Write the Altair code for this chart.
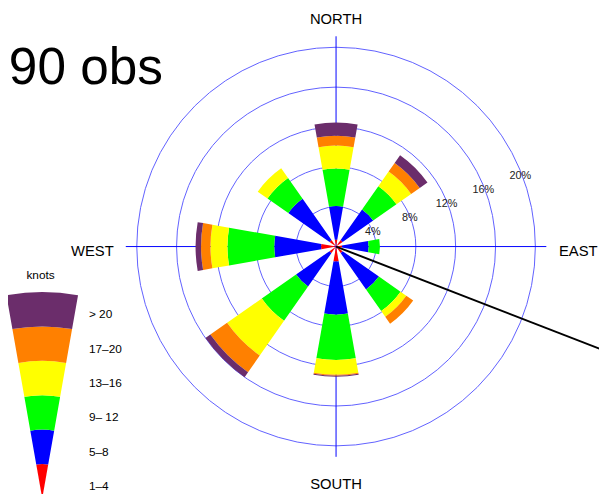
import math
import altair as alt
import pandas as pd

# ---------------- data ----------------
directions = ["N", "NE", "E", "SE", "S", "SW", "W", "NW"]
bearings = [0, 45, 90, 135, 180, 225, 270, 315]
speed_classes = ["1–4", "5–8", "9– 12", "13–16", "17–20", "> 20"]
class_colors = ["#ff0000", "#0000ff", "#00ff00", "#ffff00", "#ff8000", "#6b2d6b"]

# frequency (%) of each speed class, per direction
freq_N = [0.70, 3.36, 3.76, 2.31, 0.99, 1.33]
freq_NE = [0.80, 3.75, 2.85, 1.80, 1.05, 0.95]
freq_E = [0.60, 2.67, 1.13, 0.00, 0.00, 0.00]
freq_SE = [0.80, 4.45, 2.65, 0.70, 0.85, 0.00]
freq_S = [1.50, 5.33, 4.56, 1.48, 0.10, 0.10]
freq_SW = [0.80, 4.10, 4.20, 4.25, 2.05, 0.60]
freq_W = [1.50, 4.70, 4.70, 1.70, 0.95, 0.55]
freq_NW = [0.80, 5.05, 2.55, 1.20, 0.00, 0.00]
freqs = [freq_N, freq_NE, freq_E, freq_SE, freq_S, freq_SW, freq_W, freq_NW]

ring_pcts = [4, 8, 12, 16, 20]
ring_labels = ["4%", "8%", "12%", "16%", "20%"]
compass_names = ["NORTH", "EAST", "SOUTH", "WEST"]
title_text = "90 obs"
vector_bearing = 111.2
vector_length = 32.0

# ---------------- layout ----------------
W, H = 599, 486
CX, CY = 332.5, 238.5      # centre of the rose (px)
PX = 10.1                  # px per percent
HALF = 10                  # petal half width (deg)
AXIS_EXT = 21.1            # length of the blue cross (percent units)
LAB_ANGLE = 21.0           # angle of ring labels above east (deg)

xs = alt.Scale(domain=[-CX / PX, (W - CX) / PX], range=[0, W], nice=False, zero=False)
ys = alt.Scale(domain=[-(H - CY) / PX, CY / PX], range=[H, 0], nice=False, zero=False)
rs = alt.Scale(type="linear", domain=[0, 20], range=[0, 20 * PX], zero=True, nice=False)
cs = alt.Scale(domain=speed_classes, range=class_colors)

FONT = "Liberation Sans"

# petals table
rows = []
for d, b, fr in zip(directions, bearings, freqs):
    cum = 0.0
    for cls, f in zip(speed_classes, fr):
        if f > 0:
            rows.append(dict(dir=d, cls=cls, r0=cum, r1=cum + f,
                             t0=math.radians(b - HALF + 360), t1=math.radians(b + HALF + 360),
                             cx=0.0, cy=0.0))
        cum += f
petal_df = pd.DataFrame(rows)

ring_df = pd.DataFrame({"pct": ring_pcts, "cx": 0.0, "cy": 0.0})
ring_lab_df = pd.DataFrame({
    "lab": ring_labels,
    "x": [p * 0.99 * math.cos(math.radians(LAB_ANGLE)) for p in ring_pcts],
    "y": [p * 0.99 * math.sin(math.radians(LAB_ANGLE)) for p in ring_pcts],
})

axes_df = pd.DataFrame({"x": [-AXIS_EXT, 0.0], "x2": [AXIS_EXT, 0.0],
                        "y": [0.0, -AXIS_EXT], "y2": [0.0, AXIS_EXT]})

vec_df = pd.DataFrame({
    "x": [0.0], "y": [0.0],
    "x2": [vector_length * math.sin(math.radians(vector_bearing))],
    "y2": [vector_length * math.cos(math.radians(vector_bearing))],
})

compass_df = pd.DataFrame({
    "lab": compass_names,
    "x": [0.0, 24.31, 0.0, -24.46],
    "y": [22.84, -0.43, -23.79, -0.43],
})

# legend
LX, LY = 34.7, 493.7
LEG_R = 209
leg_df = pd.DataFrame({"cls": speed_classes,
                       "k0": list(range(6)), "k1": [k + 1 for k in range(6)],
                       "km": [k + 0.5 for k in range(6)]})
leg_rs = alt.Scale(type="linear", domain=[0, 6], range=[0, LEG_R], zero=True, nice=False)
leg_ys = alt.Scale(domain=[0, 6], range=[LY + 5, LY + 5 - LEG_R], nice=False, zero=False)

# ---------------- layers ----------------
rings = alt.Chart(ring_df).mark_arc(filled=False, stroke="#6060ff", strokeWidth=1).encode(
    x=alt.X("cx:Q", scale=xs, axis=None),
    y=alt.Y("cy:Q", scale=ys, axis=None),
    theta=alt.value(0),
    theta2=alt.value(math.tau + 0.01),
    radius=alt.Radius("pct:Q", scale=rs, stack=None),
)

cross = alt.Chart(axes_df).mark_rule(color="#0000ff", strokeWidth=1).encode(
    x=alt.X("x:Q", scale=xs, axis=None), x2="x2:Q",
    y=alt.Y("y:Q", scale=ys, axis=None), y2="y2:Q",
)

petals = alt.Chart(petal_df).mark_arc().encode(
    x=alt.X("cx:Q", scale=xs, axis=None),
    y=alt.Y("cy:Q", scale=ys, axis=None),
    theta=alt.Theta("t0:Q", scale=None),
    theta2="t1:Q",
    radius=alt.Radius("r1:Q", scale=rs, stack=None),
    radius2="r0:Q",
    color=alt.Color("cls:N", scale=cs, legend=None),
)

ring_text = alt.Chart(ring_lab_df).mark_text(font=FONT, fontSize=11, color="#222222",
                                              align="center", baseline="middle").encode(
    x=alt.X("x:Q", scale=xs, axis=None),
    y=alt.Y("y:Q", scale=ys, axis=None),
    text="lab:N",
)

vector = alt.Chart(vec_df).mark_rule(color="black", strokeWidth=2).encode(
    x=alt.X("x:Q", scale=xs, axis=None), x2="x2:Q",
    y=alt.Y("y:Q", scale=ys, axis=None), y2="y2:Q",
)

compass = alt.Chart(compass_df).mark_text(font=FONT, fontSize=15, color="black",
                                          align="center", baseline="middle").encode(
    x=alt.X("x:Q", scale=xs, axis=None),
    y=alt.Y("y:Q", scale=ys, axis=None),
    text="lab:N",
)

leg_arcs = alt.Chart(leg_df).mark_arc().encode(
    x=alt.value(LX), y=alt.value(LY),
    theta=alt.value(math.radians(360 - HALF)),
    theta2=alt.value(math.radians(360 + HALF)),
    radius=alt.Radius("k1:Q", scale=leg_rs, stack=None),
    radius2="k0:Q",
    color=alt.Color("cls:N", scale=cs, legend=None),
)

leg_text = alt.Chart(leg_df).mark_text(font=FONT, fontSize=12, color="black",
                                       align="left", baseline="middle").encode(
    x=alt.value(82),
    y=alt.Y("km:Q", scale=leg_ys, axis=None),
    text="cls:N",
)

knots = alt.Chart(pd.DataFrame({"t": ["knots"]})).mark_text(
    font=FONT, fontSize=12, color="black", align="center", baseline="middle").encode(
    x=alt.value(33), y=alt.value(267), text="t:N")

title = alt.Chart(pd.DataFrame({"t": [title_text]})).mark_text(
    font=FONT, fontSize=52, color="black", align="right", baseline="alphabetic").encode(
    x=alt.value(157), y=alt.value(74), text="t:N")

chart = alt.layer(
    rings, cross, petals, ring_text, vector, compass, leg_arcs, leg_text, knots, title
).resolve_scale(
    x="independent", y="independent", radius="independent"
).properties(
    width=W, height=H, padding=0, background="white",
    autosize=alt.AutoSizeParams(type="none"),
).configure_view(stroke=None)

chart.save("out.html", embed_options={"renderer": "svg", "actions": False})
